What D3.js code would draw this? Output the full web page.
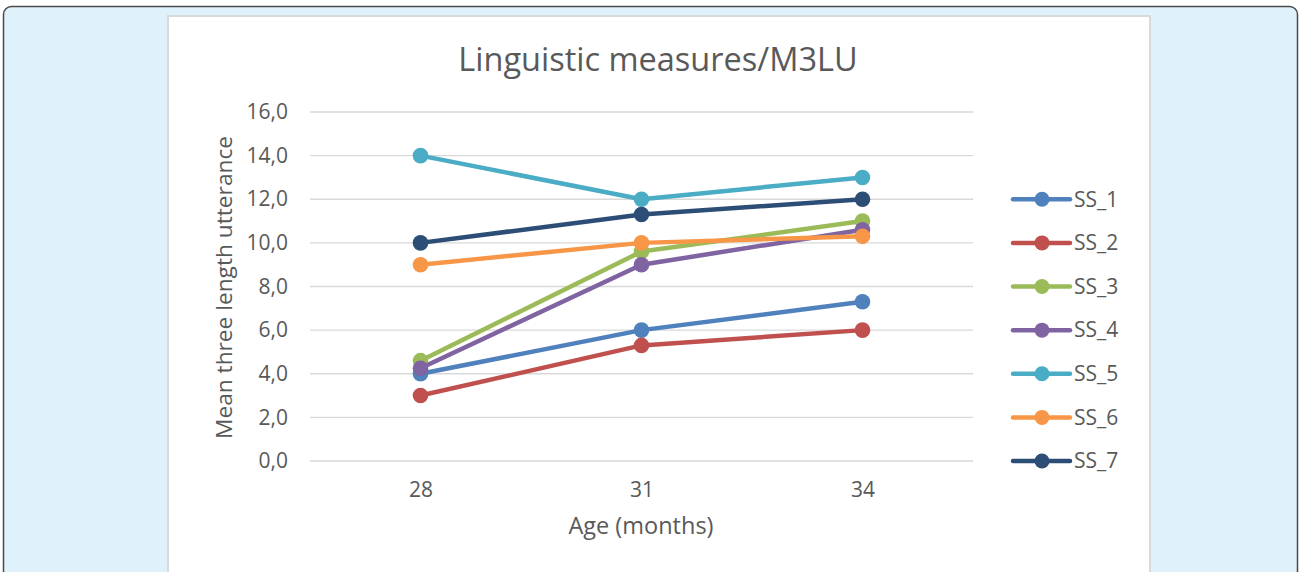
<!DOCTYPE html>
<html>
<head>
<meta charset="utf-8">
<script src="https://cdn.jsdelivr.net/npm/d3@7"></script>
<style>
  html, body { margin: 0; padding: 0; background: #fff; }
  svg { display: block; }
</style>
</head>
<body>
<div id="chart"></div>
<script>
// categories and series
const ages = ["28", "31", "34"];
const seriesNames = ["SS_1", "SS_2", "SS_3", "SS_4", "SS_5", "SS_6", "SS_7"];
const ss1 = [4.0, 6.0, 7.3];
const ss2 = [3.0, 5.3, 6.0];
const ss3 = [4.6, 9.6, 11.0];
const ss4 = [4.25, 9.0, 10.6];
const ss5 = [14.0, 12.0, 13.0];
const ss6 = [9.0, 10.0, 10.3];
const ss7 = [10.0, 11.3, 12.0];
const yTicks = [0, 2, 4, 6, 8, 10, 12, 14, 16];
const colors = ["#4f81bd", "#c0504d", "#9bbb59", "#8064a2", "#4bacc6", "#f79646", "#2c4d75"];

const series = [ss1, ss2, ss3, ss4, ss5, ss6, ss7].map((values, i) => ({
    name: seriesNames[i], color: colors[i], values: values
}));

const W = 1299, H = 572;
const font = "'Open Sans', sans-serif";
const textColor = "#595959";

const svg = d3.select("#chart").append("svg")
    .attr("width", W)
    .attr("height", H);

// outer light-blue panel with rounded border
svg.append("rect")
    .attr("x", 3.5).attr("y", 6.5)
    .attr("width", 1294).attr("height", 600)
    .attr("rx", 8).attr("ry", 8)
    .attr("fill", "#dff1fb")
    .attr("stroke", "#4a4a4a")
    .attr("stroke-width", 1.5);

// white chart area
svg.append("rect")
    .attr("x", 168).attr("y", 16)
    .attr("width", 982).attr("height", 600)
    .attr("fill", "#fff")
    .attr("stroke", "#d9d9d9")
    .attr("stroke-width", 2);

const plot = { left: 310, right: 973, top: 112, bottom: 461 };

const x = d3.scalePoint()
    .domain(ages)
    .range([plot.left, plot.right])
    .padding(0.5);

const y = d3.scaleLinear()
    .domain([0, 16])
    .range([plot.bottom, plot.top]);

// gridlines
svg.append("g")
    .selectAll("line")
    .data(yTicks)
    .join("line")
    .attr("x1", plot.left).attr("x2", plot.right)
    .attr("y1", d => y(d)).attr("y2", d => y(d))
    .attr("stroke", "#d9d9d9")
    .attr("stroke-width", 1.3);

// y axis labels
const yAxis = d3.axisLeft(y)
    .tickValues(yTicks)
    .tickSize(0)
    .tickPadding(22)
    .tickFormat(d => d3.format(".1f")(d).replace(".", ","));

svg.append("g")
    .attr("transform", `translate(${plot.left},0)`)
    .call(yAxis)
    .call(g => g.select(".domain").remove())
    .call(g => g.selectAll("text")
        .attr("fill", textColor)
        .style("font", `21px ${font}`));

// x axis labels
const xAxis = d3.axisBottom(x).tickSize(0).tickPadding(21);
svg.append("g")
    .attr("transform", `translate(0,${plot.bottom})`)
    .call(xAxis)
    .call(g => g.select(".domain").remove())
    .call(g => g.selectAll("text")
        .attr("fill", textColor)
        .style("font", `21px ${font}`));

// title
svg.append("text")
    .attr("x", 658).attr("y", 71)
    .attr("text-anchor", "middle")
    .attr("fill", textColor)
    .style("font", `32.5px ${font}`)
    .text("Linguistic measures/M3LU");

// axis titles
svg.append("text")
    .attr("x", 641).attr("y", 534)
    .attr("text-anchor", "middle")
    .attr("fill", textColor)
    .style("font", `23.5px ${font}`)
    .text("Age (months)");

svg.append("text")
    .attr("transform", `translate(232,${(plot.top + plot.bottom) / 2 + 1}) rotate(-90)`)
    .attr("text-anchor", "middle")
    .attr("fill", textColor)
    .style("font", `22.7px ${font}`)
    .text("Mean three length utterance");

// lines and markers
const line = d3.line()
    .x((d, i) => x(ages[i]))
    .y(d => y(d));

const sg = svg.append("g")
    .selectAll("g")
    .data(series)
    .join("g");

sg.append("path")
    .attr("d", d => line(d.values))
    .attr("fill", "none")
    .attr("stroke", d => d.color)
    .attr("stroke-width", 4.5)
    .attr("stroke-linejoin", "round");

sg.selectAll("circle")
    .data(d => d.values.map((v, i) => ({ v: v, i: i, color: d.color })))
    .join("circle")
    .attr("cx", d => x(ages[d.i]))
    .attr("cy", d => y(d.v))
    .attr("r", 7.8)
    .attr("fill", d => d.color);

// legend
const legend = svg.append("g")
    .selectAll("g")
    .data(series)
    .join("g")
    .attr("transform", (d, i) => `translate(1013,${y(12) + i * (y(0) - y(2))})`);

legend.append("line")
    .attr("x1", 0).attr("x2", 57)
    .attr("stroke", d => d.color)
    .attr("stroke-width", 4.5)
    .attr("stroke-linecap", "round");

legend.append("circle")
    .attr("cx", 29)
    .attr("r", 7.5)
    .attr("fill", d => d.color);

legend.append("text")
    .attr("x", 61)
    .attr("dy", "0.35em")
    .attr("fill", textColor)
    .style("font", `21px ${font}`)
    .text(d => d.name);
</script>
</body>
</html>
